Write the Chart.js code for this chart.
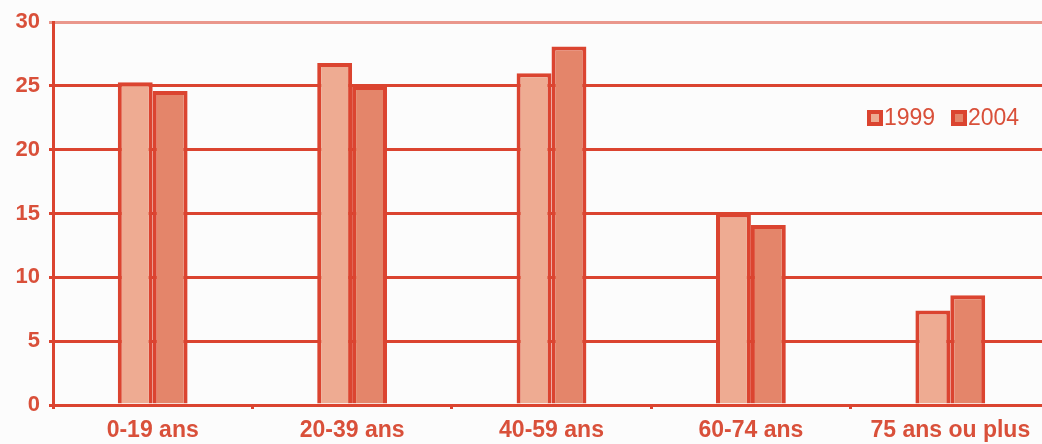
<!DOCTYPE html>
<html>
<head>
<meta charset="utf-8">
<script src="https://cdn.jsdelivr.net/npm/chart.js@4.4.1/dist/chart.umd.min.js"></script>
<style>
  html, body { margin: 0; padding: 0; background: #fcfcfc; overflow: hidden; }
  #wrap { width: 1050px; height: 444px; position: relative; }
</style>
</head>
<body>
<div id="wrap"><canvas id="c"></canvas></div>
<script>
const categories = ["0-19 ans", "20-39 ans", "40-59 ans", "60-74 ans", "75 ans ou plus"];
const seriesNames = ["1999", "2004"];
const values1999 = [25.3, 26.8, 26.0, 15.0, 7.4];
const values2004 = [24.6, 25.0, 28.1, 14.1, 8.6];
const yTicks = [0, 5, 10, 15, 20, 25, 30];

const RED = "#db4430";
const LABEL = "#d9503a";
const FILL1 = "#eeab92";
const FILL2 = "#e4856a";

const legendPlugin = {
  id: "customLegend",
  afterDraw(chart) {
    const ctx = chart.ctx;
    ctx.save();
    ctx.font = "23px 'Liberation Sans', Arial, sans-serif";
    ctx.textBaseline = "middle";
    ctx.textAlign = "left";
    const positions = [867, 951];
    const y = 118;
    chart.data.datasets.forEach((ds, i) => {
      const x = positions[i];
      ctx.fillStyle = RED;
      ctx.fillRect(x, y - 8, 16, 16);
      ctx.fillStyle = ds.backgroundColor;
      ctx.fillRect(x + 4, y - 4, 8, 8);
      ctx.fillStyle = LABEL;
      ctx.fillText(ds.label, x + 17, y + 1);
    });
    ctx.restore();
  }
};

new Chart(document.getElementById("c"), {
  type: "bar",
  data: {
    labels: categories,
    datasets: [
      { label: seriesNames[0], data: values1999, backgroundColor: FILL1, borderColor: RED, borderWidth: 4, borderSkipped: "bottom" },
      { label: seriesNames[1], data: values2004, backgroundColor: FILL2, borderColor: RED, borderWidth: 4, borderSkipped: "bottom" }
    ]
  },
  options: {
    responsive: true,
    maintainAspectRatio: false,
    animation: false,
    events: [],
    layout: { padding: { top: 21, right: 0, left: 0, bottom: 0 } },
    plugins: { legend: { display: false }, tooltip: { enabled: false } },
    datasets: { bar: { categoryPercentage: 0.35, barPercentage: 1 } },
    scales: {
      x: {
        offset: true,
        grid: { display: true, drawOnChartArea: false, drawTicks: true, tickLength: 4, color: RED, lineWidth: 3, offset: true },
        border: { display: true, color: RED, width: 3 },
        ticks: { color: LABEL, font: { size: 23, weight: "bold", family: "'Liberation Sans', Arial, sans-serif" }, padding: 8, maxRotation: 0, autoSkip: false },
        afterFit(scale) { scale.height = 39; }
      },
      y: {
        min: 0, max: 30,
        afterBuildTicks(scale) { scale.ticks = yTicks.map(v => ({ value: v })); },
        grid: {
          color: ctx => (ctx.tick && ctx.tick.value === 30) ? "rgba(219,68,48,0.55)" : RED,
          lineWidth: 3,
          drawTicks: true, tickLength: 4
        },
        border: { display: true, color: RED, width: 3 },
        ticks: { color: LABEL, font: { size: 22, weight: "bold", family: "'Liberation Sans', Arial, sans-serif" }, padding: 9 },
        afterFit(scale) { scale.width = 53; }
      }
    }
  },
  plugins: [legendPlugin]
});
</script>
</body>
</html>
